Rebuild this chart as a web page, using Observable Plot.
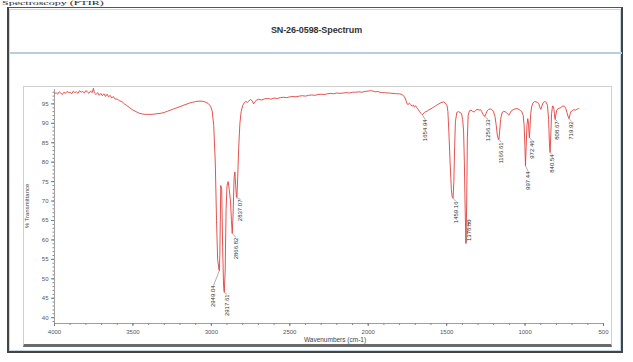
<!DOCTYPE html>
<html>
<head>
<meta charset="utf-8">
<script src="https://cdn.jsdelivr.net/npm/d3@7"></script>
<script src="https://cdn.jsdelivr.net/npm/@observablehq/plot@0.6"></script>
<style>
  html, body { margin: 0; padding: 0; background: #fff; }
  #wrap { position: relative; width: 633px; height: 362px; overflow: hidden; background: #fff; font-family: "Liberation Sans", Arial, sans-serif; }
  #toptext { position: absolute; top: 0px; left: 2px; font-family: "Liberation Serif", "DejaVu Serif", serif; font-size: 12px; line-height: 12px; color: #222; transform-origin: 0 0; transform: scaleY(0.5); white-space: nowrap; }
  #outer { position: absolute; left: 7px; top: 7px; width: 616px; height: 346px; border: 1px solid #555; border-left: 2px solid #444; border-bottom: 2px solid #444; border-right: 2px solid #444; box-sizing: border-box; }
  #inner { position: absolute; left: 9px; top: 9px; width: 612px; height: 342px; border: 1px solid #c5d6e4; box-sizing: border-box; }
  #title { position: absolute; left: 0; top: 25px; width: 633px; text-align: center; font-size: 9px; font-weight: bold; color: #333; letter-spacing: -0.1px; }
  #sep { position: absolute; left: 10px; top: 52px; width: 612px; height: 2px; background: #b7cde0; }
  #panel { position: absolute; left: 23px; top: 86px; width: 589px; height: 261px; border: 1px solid #d0d0d0; border-bottom: 3px solid #6a6a6a; box-sizing: border-box; }
  #chart { position: absolute; left: 23px; top: 86px; }
  #ylab { position: absolute; left: 27px; top: 206px; transform: translate(-50%, -50%) rotate(-90deg); font-size: 6px; color: #444; white-space: nowrap; }
  #xlab { position: absolute; left: 335px; top: 339px; transform: translate(-50%, -50%); font-size: 6.5px; color: #444; white-space: nowrap; }
</style>
</head>
<body>
<div id="wrap">
  <div id="toptext">Spectroscopy (FTIR)</div>
  <div id="outer"></div>
  <div id="inner"></div>
  <div id="title">SN-26-0598-Spectrum</div>
  <div id="sep"></div>
  <div id="panel"></div>
  <div id="chart"></div>
  <div id="ylab">% Transmittance</div>
  <div id="xlab">Wavenumbers (cm-1)</div>
</div>
<script>
// ---- Data ----
const wavenumbers = [
  4000,3990,3980,3970,3960,3950,3940,3930,3920,3910,3900,3890,3880,3870,3860,3850,3840,3830,3820,3810,
  3800,3790,3780,3770,3760,3752,3745,3735,3725,3715,3705,3695,3685,3675,3665,3655,3645,3635,3625,3615,
  3600,3585,3570,3555,3540,3520,3500,3480,3460,3440,3420,3400,3380,3360,3340,3320,3300,3280,3260,3240,
  3220,3200,3180,3160,3140,3120,3100,3080,3060,3040,3020,3005,2995,2985,2975,2967,2960,2952,2949.04,2946,
  2940,2934,2928,2922,2917.61,2912,2906,2900,2893,2886,2878,2872,2866.82,2862,2855,2850,2845,2840,2837.07,2832,
  2826,2818,2810,2800,2790,2780,2770,2760,2750,2740,2731,2722,2710,2700,2680,2660,2640,2620,2600,2580,
  2560,2540,2520,2500,2480,2460,2440,2420,2400,2380,2360,2340,2320,2300,2280,2260,2240,2220,2200,2180,
  2160,2140,2120,2100,2080,2060,2040,2020,2000,1985,1970,1955,1940,1925,1910,1895,1880,1865,1850,1835,
  1820,1800,1785,1770,1760,1752,1745,1738,1730,1720,1712,1705,1697,1690,1682,1674,1665,1658,1654.94,1650,
  1642,1632,1622,1612,1600,1590,1578,1566,1554,1542,1530,1518,1508,1498,1492,1486,1478,1470,1465,1459.16,
  1454,1449,1444,1435,1425,1415,1405,1398,1392,1387,1382,1376.80,1372,1368,1363,1355,1345,1335,1325,1316,
  1308,1300,1292,1284,1276,1268,1262,1256.33,1250,1242,1232,1222,1212,1202,1192,1184,1177,1170,1166.61,1162,
  1156,1148,1138,1128,1118,1108,1103,1098,1088,1076,1064,1052,1040,1030,1020,1012,1006,1001,997.44,993,
  988,983,978,975,972.46,969,964,958,950,940,930,920,912,905,899,893,885,875,865,857,
  850,845,840.54,836,831,825,818,813,808.67,803,797,788,778,768,758,748,740,733,726,719.92,
  714,708,700,690,680,670,660
];
const transmittance = [
  97.6,97.9,97.5,98.1,97.8,97.4,98.0,97.7,98.2,97.9,98.0,97.6,98.3,97.9,98.1,97.7,98.4,98.0,98.2,97.8,
  98.4,98.1,97.7,98.3,97.9,99.0,97.8,97.4,97.9,97.2,97.7,97.1,97.6,96.9,97.5,96.8,97.2,96.5,96.9,96.3,
  96.2,95.8,95.6,95.0,94.6,94.0,93.4,93.0,92.6,92.4,92.3,92.3,92.3,92.4,92.5,92.6,92.8,93.1,93.4,93.7,
  94.0,94.3,94.6,94.9,95.2,95.4,95.6,95.7,95.7,95.5,95.1,94.4,93.2,89.5,80.0,65.0,55.0,52.5,52.1,56.0,
  74.0,73.0,58.0,48.0,46.5,52.0,68.0,74.0,75.0,73.0,70.0,65.0,61.7,66.0,76.0,77.5,74.0,71.0,70.9,76.0,
  83.5,90.0,93.0,94.6,95.3,95.6,95.4,95.8,96.1,95.8,95.0,95.6,96.0,96.2,96.0,96.3,96.4,96.2,96.5,96.4,
  96.6,96.7,96.6,96.8,96.9,96.8,97.0,97.1,97.0,97.2,97.3,97.2,97.4,97.5,97.4,97.6,97.7,97.6,97.8,97.7,
  97.8,97.9,97.8,98.0,98.0,98.1,98.0,98.2,98.3,98.4,98.3,98.1,98.2,98.0,97.9,97.9,97.8,97.8,97.7,97.7,
  97.6,97.6,97.4,96.9,96.0,95.0,94.8,95.2,94.9,94.4,94.7,94.2,94.5,94.0,93.6,93.1,92.6,92.3,92.2,92.4,
  92.8,93.0,93.2,93.5,93.7,94.0,94.3,94.6,94.9,95.2,95.4,95.5,95.2,94.6,93.0,88.0,80.0,73.0,71.2,70.7,
  75.0,84.0,90.5,92.8,93.0,92.8,92.5,91.0,88.0,80.0,68.0,59.1,70.0,86.0,92.0,93.2,93.4,93.1,92.9,93.2,
  93.6,93.5,93.4,93.5,93.0,92.3,91.9,91.8,92.4,93.2,93.6,93.7,93.5,93.1,91.8,89.5,87.0,85.9,85.8,88.0,
  91.0,92.6,93.1,93.0,92.7,92.3,92.1,92.5,93.2,93.5,93.7,93.8,93.6,93.3,92.9,92.0,89.5,84.0,79.1,84.0,
  89.5,91.2,90.0,87.5,86.3,88.5,92.5,94.3,95.2,95.6,95.5,95.4,95.0,94.0,93.6,94.4,95.3,95.6,95.4,94.6,
  91.0,85.0,82.5,87.0,92.5,94.5,94.2,92.5,91.0,92.4,93.5,93.8,93.9,94.2,94.5,94.3,93.8,92.8,91.8,91.2,
  92.2,93.0,93.2,93.5,93.4,93.6,93.8
];

// Peak annotations (peak position, depth, label anchor in data units)
const peakLabels = ["2949.04","2917.61","2866.82","2837.07","1654.94","1459.16","1376.80","1256.33","1166.61","997.44","972.46","840.54","808.67","719.92"];
const peakWn     = [2949.04,2917.61,2866.82,2837.07,1654.94,1459.16,1376.80,1256.33,1166.61,997.44,972.46,840.54,808.67,719.92];
const peakT      = [52.1,46.5,61.7,70.9,92.2,70.7,59.1,91.8,85.8,79.1,86.3,82.5,91.0,91.2];
const labelWn    = [2986,2900,2843,2814,1638,1440,1357,1236,1150,981,956,829,793,704];
const labelT     = [48.3,46.0,60.6,70.4,91.0,69.9,65.3,91.0,85.1,77.6,85.6,82.0,90.5,90.5];

const xTicks = [4000,3500,3000,2500,2000,1500,1000,500];
const yTicks = [40,45,50,55,60,65,70,75,80,85,90,95];

// ---- Build ----
const spectrum = wavenumbers.map((w, i) => ({w, t: transmittance[i]}));
const peaks = peakLabels.map((label, i) => ({label, w: peakWn[i], t: peakT[i], lw: labelWn[i], lt: labelT[i]}));

const yDomain = [38.5, 98.7];
const plot = Plot.plot({
  width: 589,
  height: 261,
  marginLeft: 31,
  marginRight: 9,
  marginTop: 3,
  marginBottom: 24,
  style: {fontFamily: "'Liberation Sans', Arial, sans-serif", fontSize: "6px", background: "transparent", color: "#555", overflow: "visible"},
  x: {domain: [4000, 500]},
  y: {domain: yDomain},
  marks: [
    Plot.axisX({ticks: d3.range(500, 4001, 100), tickSize: 2, text: null, stroke: "#888"}),
    Plot.axisX({ticks: xTicks, tickSize: 3, tickPadding: 3, tickFormat: d => String(d), label: null, stroke: "#777", fill: "#555"}),
    Plot.axisY({ticks: d3.range(39, 99, 1), tickSize: 1.5, text: null, stroke: "#888"}),
    Plot.axisY({ticks: yTicks, tickSize: 3, tickPadding: 3, label: null, stroke: "#777", fill: "#555"}),
    Plot.ruleY([yDomain[0]], {stroke: "#888", strokeWidth: 0.8}),
    Plot.ruleX([4000], {stroke: "#888", strokeWidth: 0.8}),
    Plot.line(spectrum, {x: "w", y: "t", stroke: "#e0403c", strokeWidth: 0.9}),
    Plot.link(peaks, {x1: "w", y1: "t", x2: "lw", y2: "lt", stroke: "#777", strokeWidth: 0.6}),
    Plot.text(peaks, {x: "lw", y: "lt", text: "label", rotate: -90, textAnchor: "end", fill: "#333", fontSize: 6})
  ]
});
document.getElementById("chart").appendChild(plot);
</script>
</body>
</html>
